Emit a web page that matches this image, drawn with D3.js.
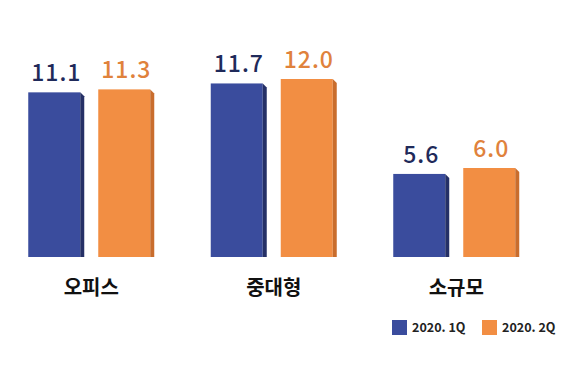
<!DOCTYPE html>
<html><head><meta charset="utf-8">
<script src="https://cdn.jsdelivr.net/npm/d3@7"></script>
<style>body{margin:0;background:#fff;}svg{display:block;font-family:"Noto Sans CJK KR","Noto Sans",sans-serif;}</style>
</head><body>
<svg id="c" width="580" height="380"></svg>
<script>
const categories = ["오피스", "중대형", "소규모"];
const seriesNames = ["2020. 1Q", "2020. 2Q"];
const q1Values = [11.1, 11.7, 5.6];
const q2Values = [11.3, 12.0, 6.0];

const colors = ["#3a4c9d", "#f28e43"];
const sideColors = ["#253066", "#c96d2d"];
const labelColors = ["#1f2a5a", "#e0823c"];

const svg = d3.select("#c");
const x0 = d3.scaleBand().domain(categories).range([0, 547.5]).padding(0);
const x1 = d3.scaleBand().domain(seriesNames).range([0, 126]).paddingInner(0.2).paddingOuter(0);
const y = d3.scaleLinear().domain([0, 12]).range([257, 79]);
const side = 4;

const data = categories.map((c, i) => ({cat: c, vals: [q1Values[i], q2Values[i]]}));

const g = svg.selectAll("g.grp").data(data).join("g")
  .attr("class", "grp")
  .attr("transform", d => `translate(${x0(d.cat) + x0.bandwidth()/2 - 63},0)`);

g.each(function(d) {
  const gg = d3.select(this);
  seriesNames.forEach((s, si) => {
    const v = d.vals[si];
    const bx = x1(s);
    const fw = x1.bandwidth() - side;
    const top = y(v), bot = y(0);
    gg.append("rect").attr("x", bx).attr("y", top).attr("width", fw).attr("height", bot - top).attr("fill", colors[si]);
    gg.append("path")
      .attr("d", `M${bx+fw},${top} L${bx+fw+side},${top+side} L${bx+fw+side},${bot} L${bx+fw},${bot} Z`)
      .attr("fill", sideColors[si]);
    gg.append("text").attr("x", bx + x1.bandwidth()/2).attr("y", top - 11)
      .attr("text-anchor", "middle").attr("font-size", 23).attr("font-weight", 500)
      .attr("letter-spacing", 1)
      .attr("fill", labelColors[si]).text(v.toFixed(1));
  });
  gg.append("text").attr("x", 63).attr("y", 295).attr("text-anchor", "middle")
    .attr("font-size", 20).attr("font-weight", 700).attr("fill", "#111").text(d.cat);
});

const legX = [392, 482];
seriesNames.forEach((s, si) => {
  svg.append("rect").attr("x", legX[si]).attr("y", 320).attr("width", 15).attr("height", 15).attr("fill", colors[si]);
  svg.append("text").attr("x", legX[si] + 20).attr("y", 332).attr("font-size", 12.5).attr("font-weight", 700)
    .attr("fill", "#222").text(s);
});
</script>
</body></html>
